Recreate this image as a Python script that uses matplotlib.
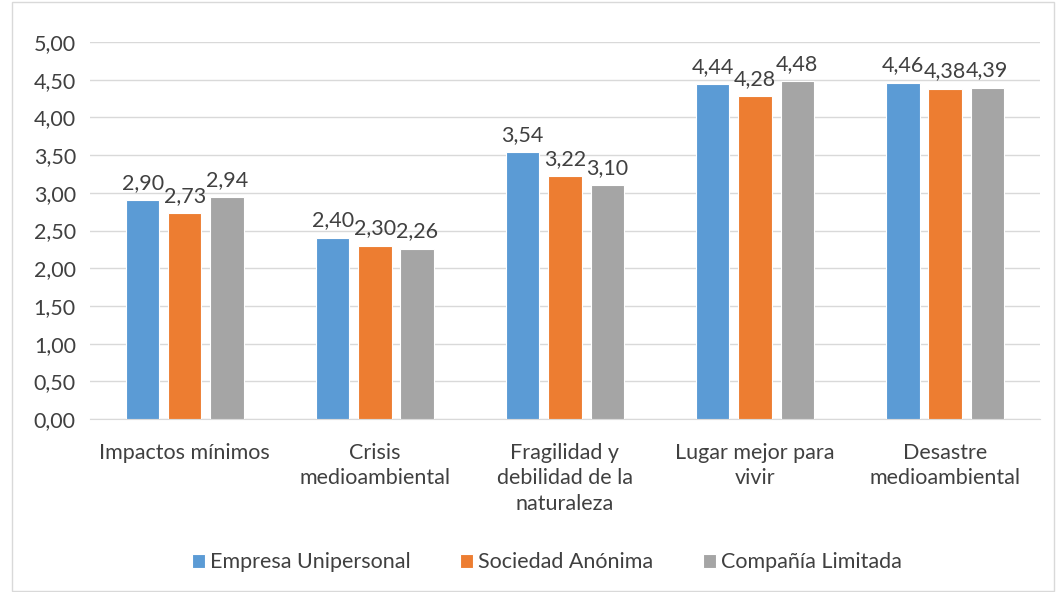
import matplotlib
matplotlib.use("Agg")
import matplotlib.pyplot as plt
import numpy as np

categories = ["Impactos mínimos", "Crisis\nmedioambiental", "Fragilidad y\ndebilidad de la\nnaturaleza",
              "Lugar mejor para\nvivir", "Desastre\nmedioambiental"]
series_names = ["Empresa Unipersonal", "Sociedad Anónima", "Compañía Limitada"]
empresa = [2.90, 2.40, 3.54, 4.44, 4.46]
sociedad = [2.73, 2.30, 3.22, 4.28, 4.38]
compania = [2.94, 2.26, 3.10, 4.48, 4.39]
yticks = [0, 0.5, 1, 1.5, 2, 2.5, 3, 3.5, 4, 4.5, 5]

colors = ["#5B9BD5", "#ED7D31", "#A5A5A5"]
plt.rcParams['font.family'] = ['Lato', 'DejaVu Sans']
txt = "#404040"
fs = 15.5

fig = plt.figure(figsize=(10.56, 5.92), dpi=100)
ax = fig.add_axes([0.085, 0.292, 0.90, 0.637])

x = np.arange(len(categories))
w = 0.175
step = 0.222
for i, (vals, name, c) in enumerate(zip([empresa, sociedad, compania], series_names, colors)):
    pos = x + (i - 1) * step
    ax.bar(pos, vals, w, color=c, label=name, edgecolor="white", linewidth=0.8, zorder=3)
    for p, v in zip(pos, vals):
        ax.text(p, v + 0.1, f"{v:.2f}".replace(".", ","), ha="center", va="bottom",
                fontsize=fs, color=txt, zorder=4)

ax.set_xlim(-0.5, len(categories) - 0.5)
ax.set_ylim(0, 5)
ax.set_yticks(yticks)
ax.set_yticklabels([f"{t:.2f}".replace(".", ",") for t in yticks], fontsize=fs, color=txt)
ax.set_xticks(x)
ax.set_xticklabels(categories, fontsize=fs, color=txt, va="top", linespacing=1.35)
ax.tick_params(axis="x", length=0, pad=17)
ax.tick_params(axis="y", length=0, pad=10)
ax.grid(axis="y", color="#D9D9D9", linewidth=1, zorder=0)
for s in ["top", "right", "left"]:
    ax.spines[s].set_visible(False)
ax.spines["bottom"].set_color("#D9D9D9")

leg = fig.legend(loc="center", bbox_to_anchor=(0.518, 0.05), ncol=3, frameon=False,
                 fontsize=fs, handlelength=0.6, handleheight=0.6, handletextpad=0.25,
                 columnspacing=2.3)
for t in leg.get_texts():
    t.set_color(txt)

border = plt.Rectangle((0.011, 0.002), 0.987, 0.995, transform=fig.transFigure,
                       fill=False, edgecolor="#D9D9D9", linewidth=1)
fig.patches.append(border)

fig.savefig("out.png", dpi=100)
